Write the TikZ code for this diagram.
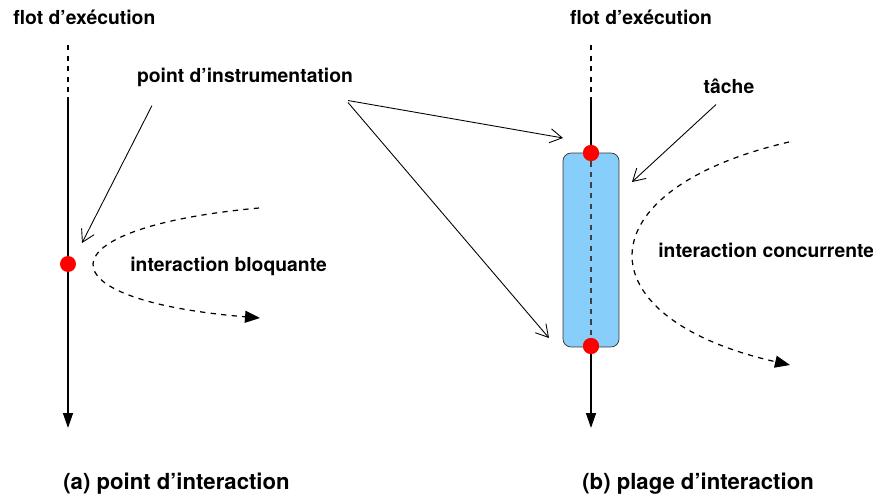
\documentclass[tikz,border=0pt]{standalone}
\usepackage{fontspec}
\setmainfont{TeX Gyre Heros}
\usepackage{xcolor}
\usepackage{tikz}
\usetikzlibrary{arrows.meta,positioning}

\definecolor{skyblue}{RGB}{135,206,250}

\begin{document}
\begin{tikzpicture}[
    x=0.02cm, y=-0.02cm,
    font=\fontsize{11}{13}\selectfont\bfseries,
    lbl/.style={anchor=west, inner sep=0pt},
    caption/.style={lbl, font=\fontsize{12.6}{15}\selectfont\bfseries},
    flow/.style={-{Triangle[length=3mm,width=2mm]}, line width=0.8pt},
    pointer/.style={-{Straight Barb[length=2.4mm,width=2.8mm]}, line width=0.5pt},
    interact/.style={dashed, line width=0.7pt, -{Triangle[length=3mm,width=2.4mm]}},
    instr/.style={circle, fill=red, minimum size=3.2mm, inner sep=0pt},
    taskbox/.style={draw=black!80, fill=skyblue, rounded corners=1.6mm,
                    minimum width=11.2mm, minimum height=38.8mm, inner sep=0pt}
]
\useasboundingbox (0,0) rectangle (873,497);

% --- Labels ---
\node[lbl] (flotA) at (13,17) {flot d’exécution};
\node (flotB) at (641,17) {flot d’exécution};
\node (instrLbl) at (245,77) {point d’instrumentation};
\node (tacheLbl) at (729,86) {tâche};
\node[lbl] (bloqLbl) at (130,266) {interaction bloquante};
\node[lbl] (concLbl) at (658,250) {interaction concurrente};
\node[caption] (capA) at (63,484) {(a) point d’interaction};
\node[caption] (capB) at (582,484) {(b) plage d’interaction};

% --- (a) point d'interaction ---
\coordinate (topA) at (68,45);
\coordinate (midA) at (68,97);
\coordinate (endA) at (68,428);
\draw[dashed, line width=0.8pt] (topA) -- (midA);
\draw[flow] (midA) -- (endA);
\node[instr] (dotA) at (68,264) {};

% --- (b) plage d'interaction ---
\node[taskbox] (tache) at (591,250) {};
\node[instr] (dotBtop) at (591,153) {};
\node[instr] (dotBbot) at (591,346) {};
\coordinate (topB) at (591,45);
\coordinate (midB) at (591,97);
\coordinate (endB) at (591,428);
\draw[dashed, line width=0.8pt] (topB) -- (midB);
\draw[line width=0.8pt] (midB) -- (dotBtop);
\draw[dashed, line width=0.8pt, black!75] (dotBtop) -- (dotBbot);
\draw[flow] (dotBbot) -- (endB);
\node[instr] at (dotBtop) {};
\node[instr] at (dotBbot) {};

% Pointers to instrumentation points and task
\coordinate (tipA) at (82,243);
\coordinate (tipBtop) at (563,138);
\coordinate (tipBbot) at (549,338);
\coordinate (tipTache) at (632,182);
\draw[pointer] (instrLbl.south) ++(-93,13) -- (tipA);
\draw[pointer] (instrLbl.south) ++(103,8) -- (tipBtop);
\draw[pointer] (instrLbl.south) ++(103,10) -- (tipBbot);
\draw[pointer] (tacheLbl.south) ++(-13,5) -- (tipTache);

% Interactions
\coordinate (bloqStart) at (259,208);
\coordinate (bloqEnd) at (260,318);
\draw[interact] (bloqStart) .. controls (40,228) and (40,300) .. (bloqEnd);
\coordinate (concStart) at (789,142);
\coordinate (concEnd) at (790,365);
\draw[interact] (concStart) .. controls (582,190) and (582,318) .. (concEnd);

\end{tikzpicture}
\end{document}
